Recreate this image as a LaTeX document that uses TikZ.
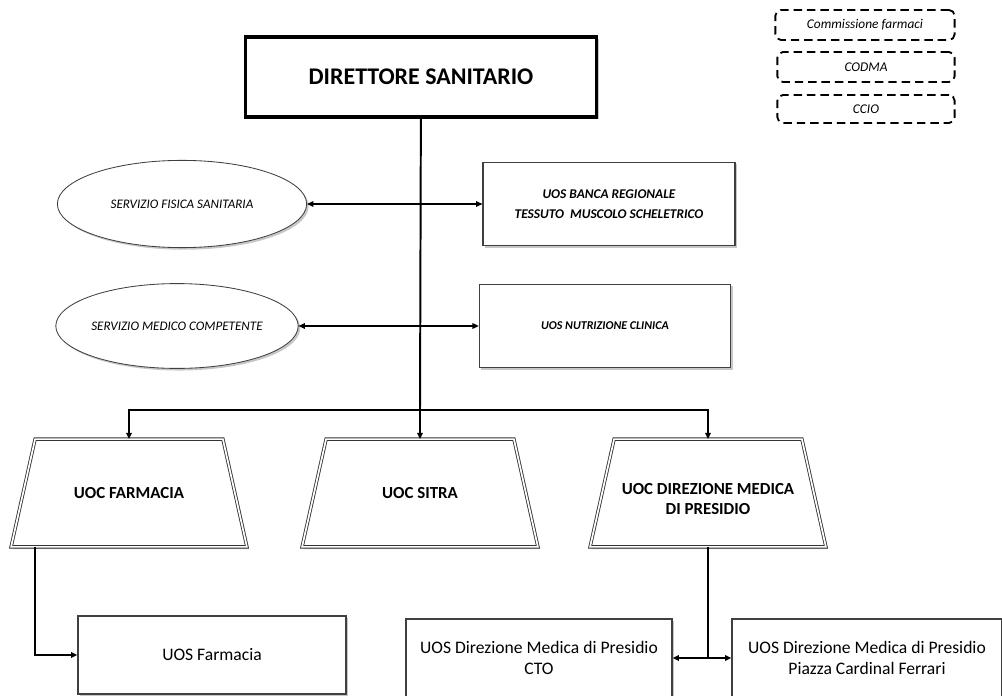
\documentclass[tikz,border=0pt]{standalone}
\usepackage{fontspec}
\setmainfont{Carlito}
\usepackage{tikz}
\usetikzlibrary{arrows.meta, positioning, calc, shapes.geometric, shadows, backgrounds}

\begin{document}
\begin{tikzpicture}[x=0.025cm, y=-0.025cm,
    >={Triangle[length=4.5pt, width=4pt]},
    shade/.style={drop shadow={shadow xshift=1.5pt, shadow yshift=-1.5pt,
                  opacity=0.22, fill=black}},
    topbox/.style={draw, line width=2.2pt, fill=white, shade,
                   minimum width=8.78cm, minimum height=2cm,
                   font=\fontsize{17}{20}\selectfont\bfseries},
    cmtbox/.style={draw, dashed, dash pattern=on 6pt off 3.5pt, line width=1.3pt,
                   rounded corners=4pt, minimum width=4.43cm, minimum height=0.75cm,
                   font=\fontsize{9.5}{11}\selectfont\itshape},
    servell/.style={ellipse, draw=black!75, fill=white, shade, line width=0.6pt,
                    inner sep=0pt, minimum width=6cm, minimum height=2.12cm,
                    font=\fontsize{9.3}{11}\selectfont\itshape},
    uosbox/.style={draw=black!75, fill=white, shade, line width=0.8pt, align=center,
                   minimum width=6.3cm, minimum height=2.08cm,
                   font=\fontsize{8.5}{14}\selectfont\bfseries\itshape},
    uocbox/.style={align=center, minimum width=4.68cm, minimum height=2.68cm,
                   font=\fontsize{12}{14}\selectfont\bfseries},
    uocline/.style={draw=black!80, double=white, double distance=1.2pt,
                    line width=0.6pt, fill=white, shade},
    subbox/.style={draw=black!75, fill=white, shade, line width=0.8pt, align=center,
                   minimum width=6.68cm, minimum height=1.95cm,
                   font=\fontsize{12.5}{14.5}\selectfont},
    link/.style={line width=1.4pt},
    side/.style={line width=0.8pt, <->}]
  \useasboundingbox (0,0) rectangle (1002,696);

  % vertice
  \node[topbox] (dir) at (421,77) {DIRETTORE SANITARIO};

  % commissioni
  \node[cmtbox, minimum width=4.48cm] (comm) at (865,25) {Commissione farmaci};
  \node[cmtbox] (codma) at (866,67) {CODMA};
  \node[cmtbox, minimum height=0.7cm] (ccio) at (866,109) {CCIO};

  % staff
  \node[servell, minimum width=6.23cm, minimum height=2.18cm] (fis) at (182,204)
    {SERVIZIO FISICA SANITARIA};
  \node[uosbox, font=\fontsize{9.5}{14}\selectfont\bfseries\itshape] (banca) at (609,204)
    {UOS BANCA REGIONALE\\TESSUTO\ \ MUSCOLO SCHELETRICO};
  \node[servell] (med) at (177,326) {SERVIZIO MEDICO COMPETENTE};
  \node[uosbox, minimum width=6.28cm] (nutr) at (605,326) {UOS NUTRIZIONE CLINICA};

  % unita operative complesse
  \node[uocbox] (farm) at (129,493) {UOC FARMACIA};
  \node[uocbox] (sitra) at (420,493) {UOC SITRA};
  \node[uocbox, text height=30pt, text depth=0pt] (dmp) at (708,493)
    {UOC DIREZIONE MEDICA\\DI PRESIDIO};
  \begin{scope}[on background layer]
    \foreach \n in {farm, sitra, dmp}
      \draw[uocline] ([xshift=-0.6cm]\n.south west) -- (\n.north west)
        -- (\n.north east) -- ([xshift=0.6cm]\n.south east) -- cycle;
  \end{scope}

  % unita operative semplici
  \node[subbox, minimum width=6.7cm] (ufarm) at (212,655) {UOS Farmacia};
  \node[subbox, minimum width=6.65cm] (cto) at (539,658)
    {UOS\ Direzione Medica di Presidio\\CTO};
  \node[subbox, minimum width=6.75cm] (piazza) at (867,658)
    {UOS\ Direzione Medica di Presidio\\Piazza\ Cardinal\ Ferrari};

  \coordinate (bus) at (420,410);
  \coordinate (split) at (708,658);

  % connettori
  \draw[link] (dir) -- (bus);
  \draw[side] (fis.east) -- (banca.west);
  \draw[side] (med.east) -- (nutr.west);
  \draw[link, ->] (bus) -| (farm.north);
  \draw[link, ->] (bus) -- (sitra.north);
  \draw[link, ->] (bus) -| (dmp.north);
  \draw[link, ->] (farm.south west) |- (ufarm.west);
  \draw[link] (dmp.south) -- (split);
  \draw[link, ->] (split) -- (cto.east);
  \draw[link, ->] (split) -- (piazza.west);
\end{tikzpicture}
\end{document}
